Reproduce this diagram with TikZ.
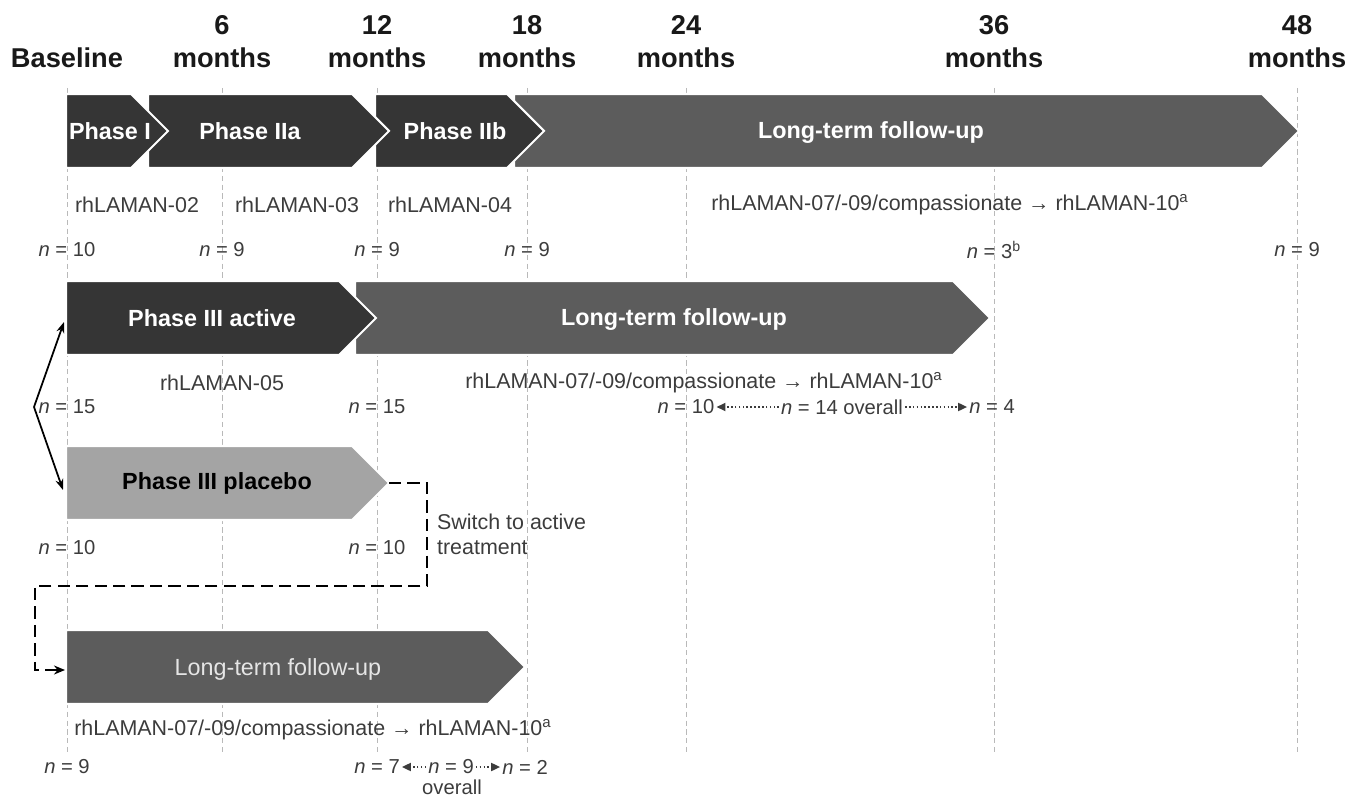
\documentclass[tikz,border=0pt]{standalone}
\usepackage{fontspec}
\setmainfont{Liberation Sans}
\usepackage{tikz}
\usetikzlibrary{arrows.meta}
\definecolor{barDark}{HTML}{353535}
\definecolor{barMid}{HTML}{5C5C5C}
\definecolor{barLight}{HTML}{A4A4A4}
\definecolor{txtGrey}{HTML}{3C3C3C}
% fill, left x, slant x, centre y (pixel units)
\newcommand{\phasebar}[4]{\filldraw[bar,fill=#1] (#2,#4-37) -- (#3,#4-37) -- ++(37,37) -- ++(-37,37) -- (#2,#4+37) -- cycle;}
\newcommand{\nv}[1]{\textit{n} = #1}

\begin{document}
\begin{tikzpicture}[x=0.02cm,y=-0.02cm,
  head/.style={font=\fontsize{15.5}{18.8}\selectfont\bfseries,text=black!90,align=center,inner sep=0pt},
  bar/.style={draw=white,line width=1.2pt},
  barlab/.style={font=\fontsize{13.3}{15}\selectfont\bfseries,text=white},
  study/.style={font=\fontsize{12.2}{14.2}\selectfont,text=txtGrey,inner sep=1pt},
  nlab/.style={font=\fontsize{11.5}{13}\selectfont,text=txtGrey,inner sep=1pt},
  grid/.style={gray!55,line width=0.4pt,dash pattern=on 3pt off 2pt},
  fk/.style={-{Stealth[length=2.2mm,width=1.6mm]},line width=1pt},
  sw/.style={-{Stealth[length=2.2mm,width=1.8mm]},line width=1.6pt,dash pattern=on 7pt off 3.5pt},
  dotar/.style={-{Triangle[length=1.8mm,width=1.6mm]},line width=1pt,dash pattern=on 0.9pt off 1.3pt,txtGrey}]
\useasboundingbox (0,0) rectangle (1365,800);
% time axis
\foreach \x in {67,222,377,527,686,994,1297}
  \draw[grid] (\x,88) -- (\x,752);
\node[head] (base) at (67,58) {Baseline};
\foreach \x/\m in {222/6,377/12,527/18,686/24,994/36,1297/48}
  \node[head] (m\m) at (\x,42) {\m\\months};

% row 1: phase I / IIa / IIb
\phasebar{barMid}{514}{1262}{131}
\phasebar{barDark}{375}{507}{131}
\phasebar{barDark}{148}{352}{131}
\phasebar{barDark}{66}{131}{131}
\node[barlab] (ph1) at (110,131) {Phase I};
\node[barlab] (ph2a) at (250,131) {Phase IIa};
\node[barlab] (ph2b) at (455,131) {Phase IIb};
\node[barlab] (fu1) at (871,133) {Long-term follow-up};
\node[study] (s02) at (137,205) {rhLAMAN-02};
\node[study] (s03) at (297,205) {rhLAMAN-03};
\node[study] (s04) at (450,205) {rhLAMAN-04};
\node[study] (s10a) at (950,205) {rhLAMAN-07/-09/compassionate → rhLAMAN-10\textsuperscript{a}};
\node[nlab] (r1n0) at (67,250) {\nv{10}};
\node[nlab] (r1n6) at (222,250) {\nv{9}};
\node[nlab] (r1n12) at (377,250) {\nv{9}};
\node[nlab] (r1n18) at (527,250) {\nv{9}};
\node[nlab] (r1n36) at (994,250) {\nv{3\textsuperscript{b}}};
\node[nlab] (r1n48) at (1297,250) {\nv{9}};

% row 2: phase III active
\phasebar{barMid}{355}{953}{318}
\phasebar{barDark}{66}{339}{318}
\node[barlab] (act) at (212,318) {Phase III active};
\node[barlab] (fu2) at (674,320) {Long-term follow-up};
\node[study] (s05) at (222,383) {rhLAMAN-05};
\node[study] (s10b) at (704,383) {rhLAMAN-07/-09/compassionate → rhLAMAN-10\textsuperscript{a}};
\node[nlab] (r2n0) at (67,407) {\nv{15}};
\node[nlab] (r2n12) at (377,407) {\nv{15}};
\node[nlab] (r2n24) at (686,407) {\nv{10}};
\node[nlab] (r2all) at (842,407) {\nv{14} overall};
\node[nlab] (r2n36) at (992,407) {\nv{4}};
\draw[dotar] (r2all.west) -- (r2n24.east);
\draw[dotar] (r2all.east) -- (r2n36.west);

% row 3: phase III placebo
\phasebar{barLight}{66}{352}{483}
\node[barlab,text=black] (plac) at (217,483) {Phase III placebo};
\node[nlab] (r3n0) at (67,548) {\nv{10}};
\node[nlab] (r3n12) at (377,548) {\nv{10}};
\node[study,anchor=west,align=left] (swt) at (435,534) {Switch to active\\treatment};

% row 4: follow-up after switch
\phasebar{barMid}{66}{488}{667}
\node[barlab,font=\fontsize{13.3}{15}\selectfont,text=black!10] (fu4) at (278,669) {Long-term follow-up};
\node[study] (s10c) at (313,730) {rhLAMAN-07/-09/compassionate → rhLAMAN-10\textsuperscript{a}};
\node[nlab] (r4n0) at (67,767) {\nv{9}};
\node[nlab] (r4n12) at (377,767) {\nv{7}};
\node[nlab] (r4all) at (451,767) {\nv{9}};
\node[nlab] (r4ov) at (452,787) {overall};
\node[nlab] (r4n18) at (525,767) {\nv{2}};
\draw[dotar] (r4all.west) -- (r4n12.east);
\draw[dotar] (r4all.east) -- (r4n18.west);

% randomisation fork and switch
\coordinate (fork) at (34,407);
\coordinate (act-w) at (64,322);
\coordinate (plac-w) at (63,490);
\coordinate (plac-tip) at (389,483);
\coordinate (fu4-w) at (65,670);
\draw[fk] (fork) -- (act-w);
\draw[fk] (fork) -- (plac-w);
\draw[sw] (plac-tip) -- (427,483) -- (427,586) -- (35,586) -- (35,670) -- (fu4-w);
\end{tikzpicture}
\end{document}
